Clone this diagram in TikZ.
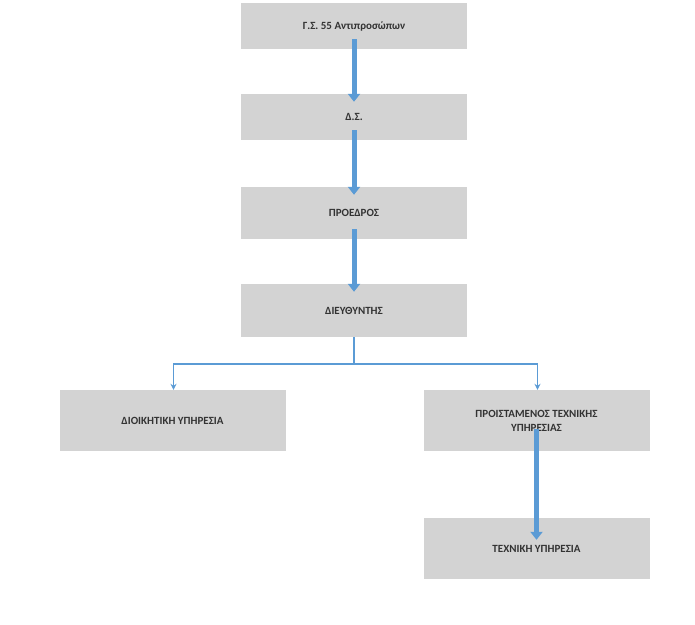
\documentclass[tikz,border=0pt]{standalone}
\usepackage{fontspec}
\setmainfont{Carlito}
\usetikzlibrary{arrows.meta}
\definecolor{boxgray}{HTML}{D3D3D3}
\definecolor{linkblue}{HTML}{5B9BD5}
\begin{document}
\begin{tikzpicture}[x=1pt,y=-1pt,
	orgbox/.style={fill=boxgray,minimum width=226pt,align=center,font=\bfseries\fontsize{11}{14}\selectfont,text=black!80},
	bigarrow/.style={linkblue,line width=5pt,-{Triangle[width=12pt,length=8pt]}},
	branch/.style={linkblue,line width=1.6pt,-{Stealth[length=6pt,width=6pt]}}]
	\useasboundingbox (0,0) rectangle (695,624);
	\node[orgbox,minimum height=46pt] (gs) at (354,26) {Γ.Σ. 55 Αντιπροσώπων};
	\node[orgbox,minimum height=46pt] (ds) at (354,117) {Δ.Σ.};
	\node[orgbox,minimum height=52pt] (pr) at (354,213) {ΠΡΟΕΔΡΟΣ};
	\node[orgbox,minimum height=53pt] (dir) at (354,310.5) {ΔΙΕΥΘΥΝΤΗΣ};
	\node[orgbox,minimum height=61pt] (admin) at (172.5,420.5) {ΔΙΟΙΚΗΤΙΚΗ ΥΠΗΡΕΣΙΑ};
	\node[orgbox,minimum height=61pt] (head) at (536.5,420.5) {ΠΡΟΙΣΤΑΜΕΝΟΣ ΤΕΧΝΙΚΗΣ\\ΥΠΗΡΕΣΙΑΣ};
	\node[orgbox,minimum height=61pt] (tech) at (536.5,548.5) {ΤΕΧΝΙΚΗ ΥΠΗΡΕΣΙΑ};
	% thick arrows between levels
	\draw[bigarrow] ([yshift=10pt]gs.south) -- ([yshift=-8pt]ds.north);
	\draw[bigarrow] ([yshift=10pt]ds.south) -- ([yshift=-8pt]pr.north);
	\draw[bigarrow] ([yshift=10pt]pr.south) -- ([yshift=-8pt]dir.north);
	\draw[bigarrow] ([yshift=22pt]head.south) -- ([yshift=-22pt]tech.north);
	% branch to services
	\coordinate (split) at (354,364);
	\draw[linkblue,line width=1.6pt] (dir.south) -- (split);
	\draw[branch] (split) -| ([xshift=1pt]admin.north);
	\draw[branch] (split) -| ([xshift=1pt]head.north);
\end{tikzpicture}
\end{document}
